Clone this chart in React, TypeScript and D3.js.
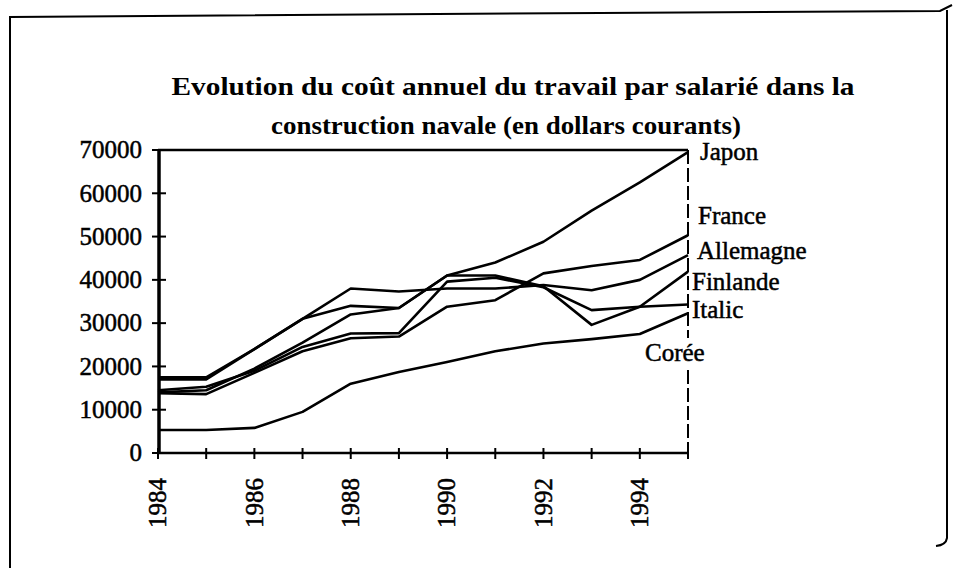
import React from "react";
import * as d3 from "d3";

const years = [1984, 1985, 1986, 1987, 1988, 1989, 1990, 1991, 1992, 1993, 1994, 1995];
const japon = [14000, 14500, 19500, 25500, 32000, 33500, 41000, 44000, 48800, 56000, 62500, 69500];
const france = [13800, 13600, 18500, 23500, 26500, 26900, 33800, 35300, 41500, 43200, 44600, 50300];
const allemagne = [17500, 17500, 24000, 31000, 38000, 37300, 38000, 38000, 38800, 37600, 40000, 45700];
const finlande = [17000, 17000, 24000, 31000, 34000, 33500, 41000, 41000, 38500, 29600, 33800, 41900];
const italie = [14500, 15300, 19000, 24500, 27600, 27700, 39600, 40500, 38300, 33000, 33800, 34300];
const coree = [5300, 5300, 5800, 9500, 16000, 18700, 21000, 23500, 25300, 26300, 27500, 32300];

const seriesNames = ["Japon", "France", "Allemagne", "Finlande", "Italic", "Corée"];
const seriesValues = [japon, france, allemagne, finlande, italie, coree];

const yTicks = [0, 10000, 20000, 30000, 40000, 50000, 60000, 70000];
const xLabels = [1984, 1986, 1988, 1990, 1992, 1994];
const titleLines = [
  "Evolution du coût annuel du travail par salarié dans la",
  "construction navale (en dollars courants)",
];

const FONT = "'Liberation Serif', 'Times New Roman', serif";

export default function App() {
  const W = 956;
  const H = 568;
  const x = d3.scaleLinear().domain([1984, 1995]).range([158, 688]);
  const y = d3.scaleLinear().domain([0, 70000]).range([453, 150]);
  const line = d3
    .line<number>()
    .x((_, i) => x(years[i]))
    .y((d) => y(d));

  const labelPos = [
    { x: 700, y: 160 },
    { x: 698, y: 224 },
    { x: 697, y: 259 },
    { x: 692, y: 290 },
    { x: 692, y: 318 },
    { x: 645, y: 361 },
  ];

  const txt = { fontFamily: FONT, fontSize: 25, stroke: "#000", strokeWidth: 0.5 } as const;

  return (
    <svg
      width={W}
      height={H}
      style={{ position: "absolute", left: 0, top: 0, background: "#fff" }}
    >
      {/* outer frame */}
      <path d="M10,568 L10,17 L600,13 L940,11 L952,5" fill="none" stroke="#000" strokeWidth={2} />
      <path d="M947,10 L947,538 Q946,545 936,546" fill="none" stroke="#000" strokeWidth={2} />

      {/* title */}
      <text
        x={513}
        y={95}
        textAnchor="middle"
        fontFamily={FONT}
        fontWeight="bold"
        fontSize={26}
        textLength={683}
        lengthAdjust="spacingAndGlyphs"
      >
        {titleLines[0]}
      </text>
      <text
        x={506}
        y={134}
        textAnchor="middle"
        fontFamily={FONT}
        fontWeight="bold"
        fontSize={26}
        textLength={470}
        lengthAdjust="spacingAndGlyphs"
      >
        {titleLines[1]}
      </text>

      {/* plot frame */}
      <line x1={x(1984)} x2={x(1995)} y1={y(70000)} y2={y(70000)} stroke="#000" strokeWidth={2.5} />
      <line x1={x(1984) + 1} x2={x(1984) + 1} y1={y(70000)} y2={y(0)} stroke="#000" strokeWidth={3.5} />
      <line x1={x(1984)} x2={x(1995)} y1={y(0)} y2={y(0)} stroke="#000" strokeWidth={2.5} />
      <line
        x1={x(1995)}
        x2={x(1995)}
        y1={y(70000)}
        y2={338}
        stroke="#000"
        strokeWidth={2}
        strokeDasharray="14,4"
      />
      <line
        x1={x(1995)}
        x2={x(1995)}
        y1={370}
        y2={y(0)}
        stroke="#000"
        strokeWidth={2}
        strokeDasharray="14,4"
      />

      {/* y ticks */}
      {yTicks.map((t) => (
        <g key={t}>
          <line x1={x(1984) - 6} x2={x(1984) + 8} y1={y(t)} y2={y(t)} stroke="#000" strokeWidth={2} />
          <text x={142} y={y(t)} dy="0.33em" textAnchor="end" {...txt}>
            {t}
          </text>
        </g>
      ))}

      {/* x ticks */}
      {years.map((yr) => (
        <line key={yr} x1={x(yr)} x2={x(yr)} y1={y(0) - 5} y2={y(0) + 6} stroke="#000" strokeWidth={2} />
      ))}
      {xLabels.map((yr) => (
        <text
          key={yr}
          transform={`translate(${x(yr)},${478}) rotate(-90)`}
          dy="0.33em"
          textAnchor="end"
          {...txt}
        >
          {yr}
        </text>
      ))}

      {/* series */}
      {seriesValues.map((vals, i) => (
        <path key={i} d={line(vals) || ""} fill="none" stroke="#000" strokeWidth={2.6} strokeLinejoin="round" />
      ))}

      {/* series labels */}
      {seriesNames.map((n, i) => (
        <text key={n} x={labelPos[i].x} y={labelPos[i].y} {...txt}>
          {n}
        </text>
      ))}
    </svg>
  );
}
